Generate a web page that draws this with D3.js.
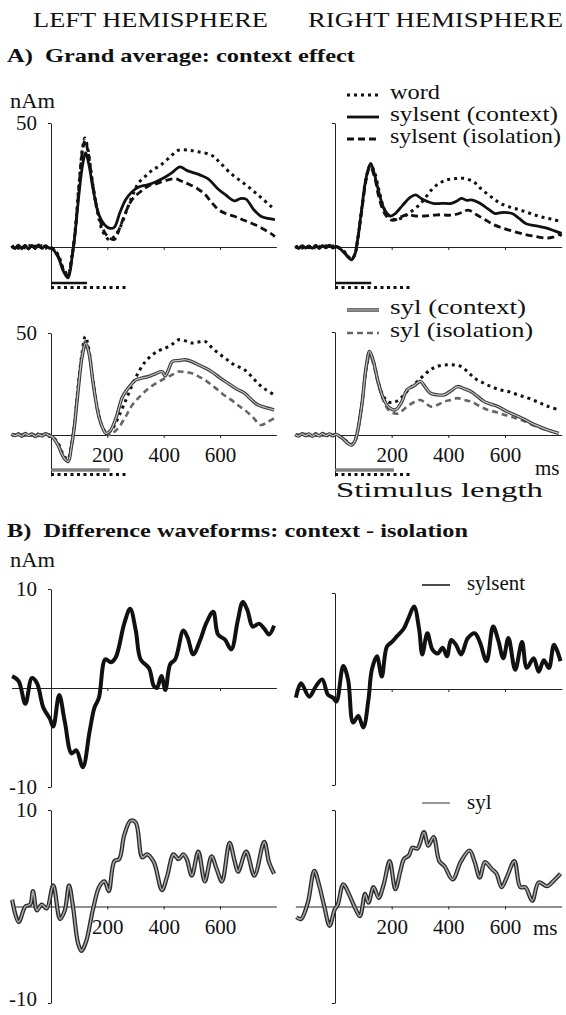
<!DOCTYPE html>
<html>
<head>
<meta charset="utf-8">
<script src="https://cdn.jsdelivr.net/npm/d3@7"></script>
<style>
  body { margin: 0; background: #fff; }
  text { font-family: "Liberation Serif", "Times New Roman", serif; fill: #111; }
</style>
</head>
<body>
<svg id="fig" width="566" height="1015"></svg>
<script>
// ---- data (ms, nAm) ----
var xTicks = [200, 400, 600]
var stimLength = { word: 270, sylsent: 128, syl: 208 }

// A) grand averages, left hemisphere, sylsent row
var tlWord = [[-140,-0.3],[-128,0.5],[-116,-0.5],[-104,0.6],[-92,-0.4],[-80,0.7],[-68,-0.6],[-56,0.4],[-44,-0.3],[-32,0.6],[-20,-0.5],[-8,0.3],[5,-0.5],[25,-3],[45,-9],[60,-11],[75,-3],[85,6],[100,26],[112,40],[120,44],[130,40],[145,28],[165,14],[185,6],[208,2.9],[230,5],[250,9],[266,13.9],[290,21],[312,26],[340,29],[360,31],[388,32.9],[420,36],[452,39],[490,39],[523,38.4],[570,37],[600,34],[640,29.5],[675,26.5],[710,23.4],[745,20],[780,16.5],[795,15]]
var tlSylsentCtx = [[-140,0.4],[-128,-0.6],[-116,0.7],[-104,-0.3],[-92,0.6],[-80,-0.8],[-68,0.4],[-56,-0.5],[-44,0.8],[-32,-0.4],[-20,0.5],[-8,-0.3],[5,-0.8],[25,-4],[45,-10],[61,-12.5],[75,-4],[85,5],[100,22],[112,33],[123,38],[135,33],[150,23],[170,13],[190,9],[210,7.5],[225,8],[245,14],[266,19.3],[290,22.5],[312,24.2],[340,25],[371,26.2],[406,28.2],[430,30],[458,32.3],[480,31],[499,30.2],[530,29],[558,27.5],[593,23.4],[620,21],[651,18.6],[672,19.5],[692,19.3],[720,15],[745,12.4],[770,11.5],[795,11]]
var tlSylsentIso = [[-140,0.2],[-128,-0.4],[-116,0.3],[-104,-0.7],[-92,0.5],[-80,-0.2],[-68,0.6],[-56,-0.6],[-44,0.3],[-32,-0.5],[-20,0.4],[-8,-0.4],[5,-0.6],[25,-3.5],[45,-9.5],[60,-11.5],[75,-3.5],[85,5],[100,25],[112,39],[121,43],[132,38],[147,26],[167,14],[190,6],[210,3.5],[225,3],[245,8],[265,14],[289,19.3],[320,22.5],[348,24.7],[375,25.5],[406,26.8],[441,27.5],[465,26.5],[488,25.4],[520,23.5],[546,21.3],[570,18],[593,15.2],[620,13.5],[651,12.4],[680,11],[710,9.7],[750,7.5],[780,5.5],[795,4.2]]

// A) right hemisphere, sylsent row
var trWord = [[-140,-0.2],[-128,0.4],[-116,-0.4],[-104,0.5],[-92,-0.3],[-80,0.6],[-68,-0.5],[-56,0.3],[-44,-0.4],[-32,0.5],[-20,-0.3],[-8,0.4],[5,0.3],[15,-0.3],[30,-1.5],[45,-3.5],[58,-5],[70,-3],[80,3],[95,16],[110,28],[125,33],[140,30],[155,23],[175,15],[195,12],[213,11],[240,12],[265,14],[297,16.9],[320,20],[345,23.6],[370,25.8],[392,27],[420,27.5],[452,27.7],[488,26.4],[510,24],[535,21.6],[560,19.5],[583,17.6],[620,16],[654,14.9],[690,13.5],[726,12.2],[765,11.2],[800,10.2]]
var trSylsentCtx = [[-140,0.3],[-128,-0.4],[-116,0.5],[-104,-0.2],[-92,0.4],[-80,-0.5],[-68,0.6],[-56,-0.3],[-44,0.5],[-32,-0.2],[-20,0.7],[-8,-0.4],[5,0.2],[15,-0.5],[30,-2],[45,-4],[58,-5.2],[70,-3],[80,3],[95,16],[110,28],[126,33.7],[140,29],[155,22],[175,15],[195,12.5],[213,13.5],[240,17],[265,20],[285,21],[305,19.5],[327,18.3],[350,17.5],[375,17.6],[411,17.6],[430,18.5],[446,19.6],[465,18.8],[482,19],[505,18],[530,16.2],[550,14.5],[565,13.5],[595,14],[625,13.5],[650,11.5],[673,9.5],[710,8.5],[744,7.7],[775,6.5],[800,5.5]]
var trSylsentIso = [[-140,0.1],[-128,-0.5],[-116,0.4],[-104,-0.4],[-92,0.2],[-80,-0.3],[-68,0.5],[-56,-0.6],[-44,0.2],[-32,-0.3],[-20,0.4],[-8,-0.2],[5,0.1],[15,-0.4],[30,-1.8],[45,-3.8],[58,-5],[70,-3],[80,3],[95,15],[110,27],[124,32.5],[140,28],[155,20],[175,13.5],[195,11],[208,10.8],[230,12],[254,13],[285,12.5],[316,12.5],[345,12.8],[375,13],[400,12.8],[423,13],[450,14],[470,14.9],[500,13],[530,11],[560,9],[590,7.7],[630,6.3],[673,5],[710,4.2],[744,3.6],[770,4],[792,5],[800,4.5]]

// A) left hemisphere, syl row
var blWord = [[-140,0.3],[-128,-0.5],[-116,0.6],[-104,-0.4],[-92,0.5],[-80,-0.6],[-68,0.3],[-56,-0.4],[-44,0.6],[-32,-0.3],[-20,0.5],[-8,-0.5],[5,-0.8],[25,-4],[45,-10],[60,-12],[72,-5],[82,4],[95,22],[110,40],[122,48.3],[133,43],[148,28],[168,11],[185,3],[200,1],[219,3.3],[240,9],[266,17.2],[290,25],[312,31.1],[335,36],[360,39.3],[385,41.5],[406,42.6],[430,44.5],[453,46.7],[480,46],[500,45.1],[520,45.5],[546,45.9],[570,43],[593,40.2],[620,37.5],[640,35.3],[665,33.5],[687,32],[710,29],[734,25.4],[760,22.5],[792,19.7]]
var blSylCtx = [[-140,0.5],[-128,-0.3],[-116,0.4],[-104,-0.6],[-92,0.7],[-80,-0.2],[-68,0.5],[-56,-0.7],[-44,0.3],[-32,-0.5],[-20,0.6],[-8,-0.2],[5,-1],[25,-5],[45,-11],[61,-13],[72,-6],[82,3],[95,20],[110,38],[123,45],[135,40],[150,25],[170,9],[185,3],[195,0.8],[210,2],[230,8],[254,18.8],[280,24],[301,27],[325,28],[348,28.7],[370,30],[395,31],[405,29],[420,33],[430,36],[455,36.5],[476,36.9],[500,36],[523,34.4],[545,33],[570,31.1],[600,28],[628,25.4],[660,22.5],[687,20.5],[710,17.5],[734,14.8],[760,13.5],[792,12.3]]
var blSylIso = [[-140,-0.2],[-128,0.4],[-116,-0.5],[-104,0.3],[-92,-0.4],[-80,0.6],[-68,-0.3],[-56,0.5],[-44,-0.5],[-32,0.4],[-20,-0.3],[-8,0.3],[5,-0.9],[25,-4.5],[45,-10.5],[60,-12.5],[72,-5.5],[82,3.5],[95,21],[110,39],[122,46],[134,41],[149,26],[168,10],[185,3],[200,0.5],[213,0],[225,1.5],[242,4],[265,9],[289,14.8],[320,19.5],[348,23],[375,25.5],[406,27.9],[430,29.5],[453,31.1],[475,30.8],[500,30.3],[520,29],[546,27],[570,24.5],[593,22.1],[615,19.5],[640,17.2],[665,14.5],[687,12.3],[715,9],[745,4.9],[770,6.5],[792,8.2]]

// A) right hemisphere, syl row
var brWord = [[-140,0.4],[-128,-0.3],[-116,0.5],[-104,-0.5],[-92,0.3],[-80,-0.4],[-68,0.6],[-56,-0.2],[-44,0.4],[-32,-0.6],[-20,0.3],[-8,-0.3],[5,0.2],[15,-0.4],[30,-1.8],[45,-3.5],[58,-4.5],[70,-3],[80,2],[95,15],[110,32],[124,39.5],[137,35],[152,26],[170,19],[190,16],[210,16],[225,17],[260,22],[297,26.8],[337,31.7],[365,33.5],[397,34.1],[420,34],[444,33.3],[470,30.5],[492,27.6],[520,25.5],[551,23.5],[580,22],[611,21.1],[645,19.5],[682,17.9],[720,15.8],[754,13.8],[790,12.2]]
var brSylCtx = [[-140,0.2],[-128,-0.5],[-116,0.6],[-104,-0.3],[-92,0.5],[-80,-0.6],[-68,0.4],[-56,-0.4],[-44,0.7],[-32,-0.3],[-20,0.5],[-8,-0.4],[5,0.3],[15,-0.5],[30,-2],[45,-4],[58,-4.9],[70,-3],[80,2],[95,15],[110,33],[122,40.6],[135,36],[150,27],[170,18],[190,13.5],[213,12.2],[235,16],[254,21.9],[280,24],[301,26],[320,23],[337,20.3],[360,19.5],[385,19.5],[410,21.5],[432,23.5],[455,22.5],[480,21.1],[505,18.5],[527,16.2],[550,15],[575,13.8],[605,11.5],[635,9.7],[670,7.5],[706,4.9],[750,2.5],[790,0.8]]
var brSylIso = [[-140,-0.3],[-128,0.4],[-116,-0.3],[-104,0.6],[-92,-0.5],[-80,0.3],[-68,-0.4],[-56,0.5],[-44,-0.3],[-32,0.4],[-20,-0.5],[-8,0.2],[5,0.2],[15,-0.4],[30,-1.9],[45,-3.8],[58,-4.5],[70,-3],[80,2],[95,15],[110,32],[123,39],[136,34],[152,25],[170,17],[190,12],[210,10.5],[225,10.5],[254,13.8],[280,16],[301,17],[320,15.5],[337,13.8],[360,14.5],[385,16.2],[410,17],[432,17.9],[455,17],[480,16.2],[510,14],[539,12.2],[570,11],[599,9.7],[630,8.5],[658,7.3],[695,5],[730,3.2],[760,2],[790,0.8]]

// B) difference waveforms: context - isolation
var diffLeftSylsent = [[-138,1.2],[-115,0.7],[-91,-1.6],[-68,1.0],[-50,0.5],[-27,-2],[-4,-3.1],[8,-3.9],[29,-0.7],[49,-3.4],[73,-6.6],[90,-6.3],[113,-8],[137,-4.4],[154,-2],[170,-1],[193,2.9],[213,2.6],[230,3.1],[260,6.5],[281,8],[301,5.8],[318,2.9],[348,2],[365,0.2],[376,0],[392,1.2],[406,-0.2],[423,2.4],[441,2.9],[470,5.8],[485,5.1],[505,3.4],[529,4.8],[552,6.6],[576,7.7],[593,5.4],[617,4.9],[640,3.9],[663,6.8],[681,8.7],[698,7.8],[716,6.2],[739,6.5],[757,6],[774,5.4],[792,6.3]]
var diffRightSylsent = [[-138,-0.9],[-120,0.6],[-91,-0.8],[-67,0.3],[-45,1.0],[-25,-0.6],[-7,-0.9],[5,-1.3],[29,2.4],[46,1],[64,-3.5],[82,-2.8],[100,-4],[118,-1.1],[130,2],[148,3.4],[165,1.3],[183,4.4],[201,4.9],[219,5.5],[243,6.3],[261,7.5],[279,8.6],[297,6.2],[308,3.6],[326,5.8],[344,4.1],[362,3.7],[380,4.3],[395,3.4],[410,5.1],[427,4.6],[445,3.6],[469,5.3],[493,5.8],[511,4.9],[535,2.9],[558,6.5],[576,5.1],[594,3.2],[612,5.3],[636,2],[660,4.9],[677,2.2],[701,3.2],[719,1.8],[737,3],[755,2.2],[773,4.6],[796,2.9]]
var diffLeftSyl = [[-138,0.7],[-115,-1.6],[-91,0],[-74,0.2],[-64,1.6],[-50,-0.4],[-33,0.2],[-15,-0.2],[8,2.2],[32,-1.3],[49,-0.4],[64,2.2],[78,0],[96,-3.8],[108,-4.6],[125,-3.6],[149,-0.3],[172,2.1],[190,2.6],[205,1.6],[225,4.7],[242,4.9],[260,7.4],[283,8.9],[301,8.7],[324,5.1],[341,5.4],[365,4.6],[394,1.7],[412,3.1],[435,5.4],[453,4.9],[470,5.4],[482,4.9],[500,3.2],[523,5.7],[546,2.6],[570,5.2],[588,3.9],[607,2.6],[634,6.6],[652,4.7],[664,3.6],[693,5.7],[722,3.2],[757,6.7],[774,4.6],[792,3.4]]
var diffRightSyl = [[-136,-1.1],[-120,-1.3],[-96,0.4],[-73,3.7],[-55,2.1],[-37,-0.1],[-19,-2],[-1,-0.3],[10,0.2],[29,2.3],[52,1.1],[70,-0.1],[88,-1],[106,1.3],[118,0.4],[136,2],[154,0.9],[172,2.3],[193,4.7],[213,1.8],[231,3.7],[243,4.9],[261,5.3],[273,6.1],[291,6],[314,7.7],[329,6.3],[348,7.2],[368,4.7],[386,4.2],[415,2.8],[445,4.7],[475,5.8],[493,4.6],[511,3],[529,4.6],[553,3.9],[570,3.4],[588,2],[606,3],[633,4.7],[654,2],[672,2],[696,0.6],[719,2.5],[749,2.1],[773,2.7],[796,3.4]]

var legendTop = ['word', 'sylsent (context)', 'sylsent (isolation)']
var legendBottom = ['syl (context)', 'syl (isolation)']

// ---- drawing ----
var svg = d3.select('#fig')
var xLeft = d3.scaleLinear().domain([0, 600]).range([51, 220])
var xRight = d3.scaleLinear().domain([0, 600]).range([335, 505])

var st = {
  word: { stroke: '#111', width: 3, dash: '3,4' },
  ctx: { stroke: '#111', width: 2.8 },
  iso: { stroke: '#111', width: 2.8, dash: '7,4' },
  sylCtx: { stroke: '#c4c4c4', width: 1.2, under: '#3a3a3a', underWidth: 3.4 },
  sylIso: { stroke: '#666', width: 2.6, dash: '6,4' },
  diff: { stroke: '#111', width: 4 },
  diffSyl: { stroke: '#a8a8a8', width: 1.6, under: '#2a2a2a', underWidth: 4.2 }
}

function addPath(g, data, x, y, s) {
  var line = d3.line()
    .x(d => x(d[0]))
    .y(d => y(d[1]))
    .curve(d3.curveCatmullRom.alpha(0.5))
  if (s.under) {
    g.append('path').datum(data).attr('d', line).attr('fill', 'none')
      .attr('stroke', s.under).attr('stroke-width', s.underWidth)
      .attr('stroke-linejoin', 'round')
  }
  g.append('path').datum(data).attr('d', line).attr('fill', 'none')
    .attr('stroke', s.stroke).attr('stroke-width', s.width)
    .attr('stroke-dasharray', s.dash || null)
    .attr('stroke-linejoin', 'round')
}

function styleAxis(sel, size) {
  sel.attr('font-family', null).attr('font-size', size)
  sel.selectAll('path,line').attr('stroke', '#222').attr('stroke-width', 1)
}

function zeroAxis(g, x, y, labels, pad) {
  var xa = d3.scaleLinear().domain([-140, 800]).range([x(-140), x(800)])
  g.append('g')
    .attr('transform', 'translate(0,' + y(0) + ')')
    .call(d3.axisBottom(xa).tickValues(xTicks).tickSize(3).tickSizeOuter(0)
      .tickPadding(pad || 9).tickFormat(labels ? d3.format('d') : ''))
    .call(styleAxis, 21)
}

function yAxis(g, x, y, lo, hi, ticks, labels) {
  var ya = d3.scaleLinear().domain([lo, hi]).range([y(lo), y(hi)])
  return g.append('g')
    .attr('transform', 'translate(' + x(0) + ',0)')
    .call(d3.axisLeft(ya).tickValues(ticks).tickSize(3).tickSizeOuter(0)
      .tickPadding(11).tickFormat(labels ? (d => String(d)) : ''))
    .call(styleAxis, 21)
}

function stimBars(g, x, y, bars) {
  bars.forEach(b => {
    addPath(g, [[0, b.v], [b.len, b.v]], x, y, b.style)
  })
}

// panel A
var panelsA = [
  { x: xLeft, y: d3.scaleLinear().domain([0, 50]).range([247, 123]), series: [tlWord, tlSylsentIso, tlSylsentCtx], styles: [st.word, st.iso, st.ctx], left: true, bottomRow: false },
  { x: xRight, y: d3.scaleLinear().domain([0, 50]).range([247, 123]), series: [trWord, trSylsentIso, trSylsentCtx], styles: [st.word, st.iso, st.ctx], left: false, bottomRow: false },
  { x: xLeft, y: d3.scaleLinear().domain([0, 50]).range([435, 333]), series: [blWord, blSylIso, blSylCtx], styles: [st.word, st.sylIso, st.sylCtx], left: true, bottomRow: true },
  { x: xRight, y: d3.scaleLinear().domain([0, 50]).range([435, 332]), series: [brWord, brSylIso, brSylCtx], styles: [st.word, st.sylIso, st.sylCtx], left: false, bottomRow: true }
]

panelsA.forEach(p => {
  var g = svg.append('g')
  var barBase = p.bottomRow ? 470 : 283
  var lo = p.y.invert(barBase + 6)
  yAxis(g, p.x, p.y, lo, 50, [50], p.left)
  zeroAxis(g, p.x, p.y, p.bottomRow, 9)
  p.series.forEach((s, i) => addPath(g, s, p.x, p.y, p.styles[i]))
  var firstBar = p.bottomRow
    ? { len: stimLength.syl, v: p.y.invert(barBase), style: { stroke: '#bbb', width: 1.2, under: '#444', underWidth: 3 } }
    : { len: stimLength.sylsent, v: p.y.invert(barBase), style: { stroke: '#111', width: 2.5 } }
  stimBars(g, p.x, p.y, [firstBar, { len: stimLength.word, v: p.y.invert(barBase + 4.5), style: { stroke: '#111', width: 3, dash: '3,3.5' } }])
})

// panel B
var panelsB = [
  { x: xLeft, y: d3.scaleLinear().domain([-10, 10]).range([787, 589]), data: diffLeftSylsent, style: st.diff, left: true, bottomRow: false },
  { x: xRight, y: d3.scaleLinear().domain([-10, 10]).range([785, 593]), data: diffRightSylsent, style: st.diff, left: false, bottomRow: false },
  { x: xLeft, y: d3.scaleLinear().domain([-10, 10]).range([1003, 810]), data: diffLeftSyl, style: st.diffSyl, left: true, bottomRow: true },
  { x: xRight, y: d3.scaleLinear().domain([-10, 10]).range([1003, 810]), data: diffRightSyl, style: st.diffSyl, left: false, bottomRow: true }
]

panelsB.forEach(p => {
  var g = svg.append('g')
  var ax = yAxis(g, p.x, p.y, -10, 10, [-10, 10], p.left)
  // the last "-10" sits at the very bottom edge of the page
  if (p.left && p.bottomRow) {
    ax.selectAll('.tick text').filter(d => d < 0).attr('dy', '0.12em')
  }
  zeroAxis(g, p.x, p.y, p.bottomRow, 10)
  addPath(g, p.data, p.x, p.y, p.style)
})

// ---- text ----
function label(txt, x, y, size, opts) {
  opts = opts || {}
  var t = svg.append('text').attr('x', x).attr('y', y)
    .attr('font-size', size)
    .attr('font-weight', opts.bold ? 'bold' : null)
    .style('white-space', 'pre')
    .text(txt)
  if (opts.w) t.attr('textLength', opts.w).attr('lengthAdjust', 'spacingAndGlyphs')
  return t
}

label('LEFT HEMISPHERE', 33, 27, 22, { w: 235 })
label('RIGHT HEMISPHERE', 308, 27, 22, { w: 255 })
label('A)  Grand average: context effect', 7, 62, 19, { bold: true, w: 348 })
label('nAm', 10, 108, 21, { w: 45 })
label('B)  Difference waveforms: context - isolation', 7, 537, 19, { bold: true, w: 461 })
label('nAm', 10, 567, 21, { w: 45 })
label('ms', 535, 475, 21)
label('Stimulus length', 336, 497, 22, { w: 207 })
label('ms', 533, 935, 21)

// legends
var legTopStyles = [st.word, st.ctx, st.iso]
var legTopY = [95, 117, 139]
var legTopW = [50, 168, 171]
var legendX = d3.scaleLinear().domain([0, 1]).range([347, 379])
legendTop.forEach((name, i) => {
  var ly = d3.scaleLinear().domain([0, 1]).range([legTopY[i], legTopY[i] - 1])
  addPath(svg, [[0, 0], [1, 0]], legendX, ly, legTopStyles[i])
  label(name, 390, legTopY[i] + 4, 21, { w: legTopW[i] })
})
var legBotStyles = [st.sylCtx, st.sylIso]
var legBotY = [310, 333]
var legBotW = [136, 143]
legendBottom.forEach((name, i) => {
  var ly = d3.scaleLinear().domain([0, 1]).range([legBotY[i], legBotY[i] - 1])
  addPath(svg, [[0, 0], [1, 0]], legendX, ly, legBotStyles[i])
  label(name, 390, legBotY[i] + 4, 21, { w: legBotW[i] })
})

var legBX = d3.scaleLinear().domain([0, 1]).range([422, 450])
addPath(svg, [[0, 585], [1, 585]], legBX, v => v, { stroke: '#111', width: 1.5 })
label('sylsent', 467, 590, 21, { w: 58 })
addPath(svg, [[0, 803], [1, 803]], legBX, v => v, { stroke: '#777', width: 1.5 })
label('syl', 467, 809, 21)
</script>
</body>
</html>
